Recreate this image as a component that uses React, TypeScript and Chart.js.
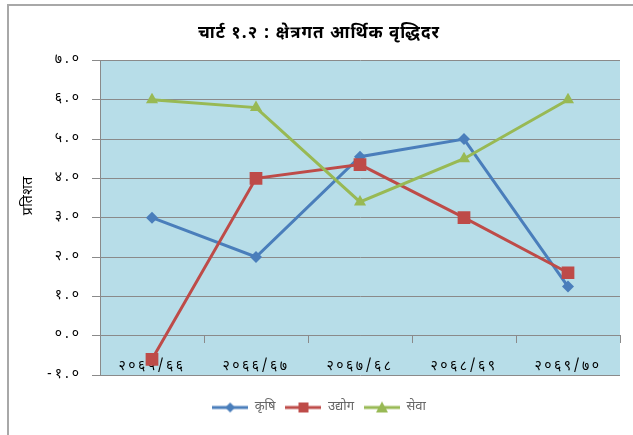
import React, { useEffect, useRef } from 'react';
import { Chart, registerables } from 'chart.js';

Chart.register(...registerables);

const chartTitle = 'चार्ट १.२ : क्षेत्रगत आर्थिक वृद्धिदर';
const yAxisTitle = 'प्रतिशत';
const categories = ['२०६५/६६', '२०६६/६७', '२०६७/६८', '२०६८/६९', '२०६९/७०'];
const seriesNames = ['कृषि', 'उद्योग', 'सेवा'];
const krishi = [3.0, 2.0, 4.55, 5.0, 1.25];
const udyog = [-0.6, 4.0, 4.35, 3.0, 1.6];
const sewa = [6.0, 5.8, 3.4, 4.5, 6.0];
const yTickValues = [-1, 0, 1, 2, 3, 4, 5, 6, 7];
const yTickLabels = ['-१.०', '०.०', '१.०', '२.०', '३.०', '४.०', '५.०', '६.०', '७.०'];

const COLORS = ['#4A7EBB', '#BE4B48', '#98B954'];
const STYLES = ['rectRot', 'rect', 'triangle'];
const RADII = [6, 9, 7];
const FONT = '"Noto Sans Devanagari", "Lohit Devanagari", "Noto Sans", sans-serif';

function makeIcon(color: string, style: string): HTMLCanvasElement {
  const c = document.createElement('canvas');
  c.width = 36;
  c.height = 14;
  const g = c.getContext('2d')!;
  g.strokeStyle = color;
  g.fillStyle = color;
  g.lineWidth = 3;
  g.beginPath();
  g.moveTo(0, 7);
  g.lineTo(36, 7);
  g.stroke();
  g.beginPath();
  if (style === 'rectRot') {
    g.moveTo(18, 2);
    g.lineTo(23, 7);
    g.lineTo(18, 12);
    g.lineTo(13, 7);
    g.closePath();
  } else if (style === 'rect') {
    g.rect(13, 2, 10, 10);
  } else {
    g.moveTo(18, 1);
    g.lineTo(24, 12);
    g.lineTo(12, 12);
    g.closePath();
  }
  g.fill();
  return c;
}

const plotBg = {
  id: 'plotBg',
  beforeDraw(chart: any) {
    const { ctx, chartArea: a } = chart;
    ctx.save();
    ctx.fillStyle = '#B7DDE8';
    ctx.fillRect(a.left, a.top, a.right - a.left, a.bottom - a.top);
    ctx.restore();
  },
};

// letter spacing / small offsets applied around the library's own text drawing
function wrapMethod(chart: any, obj: any, method: string, spacing: string, dy = 0) {
  if (!obj || obj['__w_' + method]) return;
  const orig = obj[method];
  obj[method] = function (...args: any[]) {
    const ctx = chart.ctx;
    const prev = (ctx as any).letterSpacing;
    ctx.save();
    (ctx as any).letterSpacing = spacing;
    if (dy) ctx.translate(0, dy);
    try {
      return orig.apply(this, args);
    } finally {
      ctx.restore();
      (ctx as any).letterSpacing = prev;
    }
  };
  obj['__w_' + method] = true;
}

const textSpacing = {
  id: 'textSpacing',
  beforeLayout(chart: any) {
    wrapMethod(chart, chart.scales.x, 'drawLabels', '2.5px');
    wrapMethod(chart, chart.scales.y, 'drawLabels', '3px');
    wrapMethod(chart, chart.scales.y, 'drawTitle', '0.5px', -22);
    wrapMethod(chart, chart.titleBlock, 'draw', '1px');
  },
};

export default function App() {
  const ref = useRef<HTMLCanvasElement>(null);
  useEffect(() => {
    const icons = COLORS.map((c, i) => makeIcon(c, STYLES[i]));
    const allSeries = [krishi, udyog, sewa];
    const chart = new Chart(ref.current!, {
      type: 'line',
      data: {
        labels: categories,
        datasets: allSeries.map((d, i) => ({
          label: seriesNames[i],
          data: d,
          borderColor: COLORS[i],
          backgroundColor: COLORS[i],
          borderWidth: 3,
          pointStyle: STYLES[i] as any,
          pointRadius: RADII[i],
          pointBorderWidth: 0,
          pointBackgroundColor: COLORS[i],
          tension: 0,
          order: 3 - i,
        })),
      },
      options: {
        responsive: false,
        animation: false,
        layout: { padding: { left: 18, right: 13, top: 0, bottom: 11 } },
        plugins: {
          title: {
            display: true,
            text: chartTitle,
            color: '#000',
            font: { family: FONT, size: 17, weight: 'bold' },
            padding: { top: 25, bottom: 15 },
          },
          legend: {
            position: 'bottom',
            title: { display: true, text: '', font: { size: 10 }, padding: { top: 4, bottom: 0 } },
            labels: {
              usePointStyle: true,
              pointStyleWidth: 36,
              padding: 10,
              color: '#000',
              font: { family: FONT, size: 13 },
              generateLabels: () =>
                seriesNames.map((n, i) => ({
                  text: n,
                  pointStyle: icons[i] as any,
                  fillStyle: COLORS[i],
                  strokeStyle: COLORS[i],
                  lineWidth: 0,
                  datasetIndex: i,
                  hidden: false,
                })),
            },
          },
          tooltip: { enabled: false },
        },
        scales: {
          x: {
            type: 'category',
            position: { y: 0 } as any,
            offset: true,
            grid: {
              drawOnChartArea: false,
              drawTicks: true,
              tickLength: 7,
              offset: true,
              color: '#8a8a8a',
            },
            border: { display: true, color: '#8a8a8a' },
            ticks: {
              color: '#000',
              padding: 16,
              maxRotation: 0,
              autoSkip: false,
              font: { family: FONT, size: 14 },
            },
          },
          y: {
            min: -1,
            max: 7,
            afterFit: (s: any) => {
              s.width = 82;
            },
            title: {
              display: true,
              text: yAxisTitle,
              color: '#000',
              font: { family: FONT, size: 14 },
              padding: { top: 3, bottom: 4 },
            },
            grid: { color: '#8a8a8a', lineWidth: 1, tickLength: 8 },
            border: { display: true, color: '#8a8a8a' },
            ticks: {
              stepSize: 1,
              padding: 10,
              color: '#000',
              font: { family: FONT, size: 14 },
              callback: (v: any) => {
                const idx = yTickValues.indexOf(Number(v));
                return idx >= 0 ? yTickLabels[idx] : '';
              },
            },
          },
        },
      },
      plugins: [plotBg, textSpacing],
    });
    return () => chart.destroy();
  }, []);

  return (
    <div style={{ position: 'absolute', left: 0, top: 0, width: 633, height: 435, background: '#fff' }}>
      <div
        style={{
          position: 'absolute',
          left: 7,
          top: 4,
          right: 0,
          bottom: 0,
          borderLeft: '2px solid #a8a8a8',
          borderTop: '2px solid #a8a8a8',
        }}
      />
      <canvas ref={ref} width={633} height={435} style={{ position: 'absolute', left: 0, top: 0 }} />
    </div>
  );
}
